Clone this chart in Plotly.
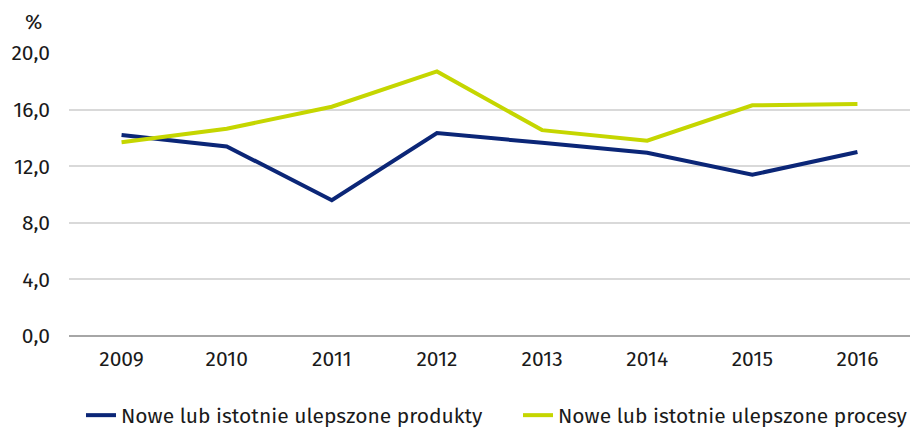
import plotly.graph_objects as go

years = ["2009", "2010", "2011", "2012", "2013", "2014", "2015", "2016"]
produkty = [14.2, 13.4, 9.6, 14.35, 13.65, 12.95, 11.4, 13.0]
procesy = [13.7, 14.65, 16.2, 18.7, 14.55, 13.8, 16.3, 16.4]
y_ticks = [0, 4, 8, 12, 16, 20]
y_labels = ["0,0", "4,0", "8,0", "12,0", "16,0", "20,0"]

font = "Fira Sans, Noto Sans, Open Sans, sans-serif"
PW = 917 - 69 - 7
PH = 336 - 53
FS = 21

fig = go.Figure()
fig.add_trace(go.Scatter(x=years, y=produkty, mode="lines",
                         name="Nowe lub istotnie ulepszone produkty",
                         line=dict(color="#0b2677", width=4), legend="legend"))
fig.add_trace(go.Scatter(x=years, y=procesy, mode="lines",
                         name="Nowe lub istotnie ulepszone procesy",
                         line=dict(color="#c5d600", width=4), legend="legend2"))

leg_common = dict(orientation="h", xanchor="left", yanchor="bottom",
                  y=(336 - 436) / PH, font=dict(size=FS),
                  bgcolor="rgba(0,0,0,0)")

fig.update_layout(
    width=917, height=437,
    margin=dict(l=69, r=7, t=53, b=101, autoexpand=False),
    plot_bgcolor="white", paper_bgcolor="white",
    font=dict(family=font, size=FS, color="#1a1a1a"),
    showlegend=True,
    legend=dict(x=(81 - 69) / PW, **leg_common),
    legend2=dict(x=(518 - 69) / PW, **leg_common),
    xaxis=dict(type="category", range=[-0.5, 7.5], showgrid=False,
               ticks="", showline=False, automargin=False,
               ticklabelstandoff=8, tickfont=dict(size=FS)),
    yaxis=dict(range=[0, 20], tickvals=y_ticks, ticktext=y_labels,
               showgrid=True, gridcolor="#d9d9d9", gridwidth=1.5,
               zeroline=True, zerolinecolor="#a6a6a6", zerolinewidth=1.5,
               ticks="", automargin=False, ticklabelstandoff=18,
               tickfont=dict(size=FS)),
    annotations=[dict(text="%", xref="paper", yref="paper",
                      x=(33 - 69) / PW, y=(336 - 22) / PH,
                      xanchor="center", yanchor="middle",
                      showarrow=False, font=dict(size=FS))],
)
fig.write_html("out.html", config={"displayModeBar": False})

with open("out.html", "r", encoding="utf-8") as f:
    html = f.read()
html = html.replace("<body>", '<body style="margin:0;padding:0;">', 1)
with open("out.html", "w", encoding="utf-8") as f:
    f.write(html)
